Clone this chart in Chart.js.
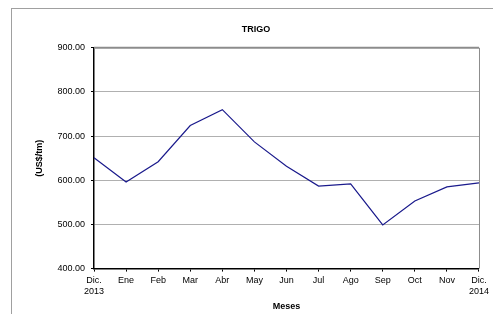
<!DOCTYPE html>
<html>
<head>
<meta charset="utf-8">
<script src="https://cdn.jsdelivr.net/npm/chart.js@4"></script>
<style>
  body { margin: 0; background: #fff; }
  #wrap { position: relative; width: 493px; height: 314px; overflow: hidden; }
  #marco { position: absolute; left: 11px; top: 8px; width: 520px; height: 340px; border: 1px solid #a0a0a0; }
  canvas { position: absolute; left: 0; top: 0; }
</style>
</head>
<body>
<div id="wrap">
  <div id="marco"></div>
  <canvas id="trigoChart" width="493" height="314"></canvas>
</div>
<script>
// Datos del gráfico
const meses = [['Dic.', '2013'], 'Ene', 'Feb', 'Mar', 'Abr', 'May', 'Jun', 'Jul', 'Ago', 'Sep', 'Oct', 'Nov', ['Dic.', '2014']];
const precios = [651, 596, 642, 724, 760, 687, 632, 587, 592, 499, 553, 585, 594];
const yTicks = [400, 500, 600, 700, 800, 900];

const fuente = 'Liberation Sans, Arial, sans-serif';

// Borde gris arriba y a la derecha del área de trazado
const bordePlot = {
    id: 'bordePlot',
    afterDraw(chart) {
        const { ctx, chartArea: a } = chart;
        ctx.save();
        ctx.strokeStyle = '#8c8c8c';
        ctx.lineWidth = 2;
        ctx.beginPath();
        ctx.moveTo(a.left, a.top);
        ctx.lineTo(a.right, a.top);
        ctx.stroke();
        ctx.lineWidth = 1;
        ctx.beginPath();
        ctx.moveTo(a.right + 0.5, a.top);
        ctx.lineTo(a.right + 0.5, a.bottom);
        ctx.stroke();
        ctx.restore();
    }
};

const ctx = document.getElementById('trigoChart').getContext('2d');
new Chart(ctx, {
    type: 'line',
    data: {
        labels: meses,
        datasets: [{
            label: 'Trigo',
            data: precios,
            borderColor: '#1a1a8c',
            borderWidth: 1.2,
            pointRadius: 0,
            tension: 0,
            fill: false
        }]
    },
    options: {
        responsive: false,
        animation: false,
        layout: { padding: { left: 30, right: 11, top: 24, bottom: 2 } },
        plugins: {
            legend: { display: false },
            tooltip: { enabled: false },
            title: {
                display: true,
                text: 'TRIGO',
                color: '#000',
                font: { family: fuente, size: 9, weight: 'bold' },
                padding: { top: 0, bottom: 13 }
            }
        },
        scales: {
            x: {
                offset: false,
                grid: { drawOnChartArea: false, tickLength: 3, tickColor: '#000' },
                border: { color: '#000', width: 1.5 },
                ticks: {
                    color: '#000',
                    font: { family: fuente, size: 9 },
                    maxRotation: 0,
                    autoSkip: false,
                    padding: 4
                },
                title: {
                    display: true,
                    text: 'Meses',
                    color: '#000',
                    font: { family: fuente, size: 9, weight: 'bold' },
                    padding: { top: 0, bottom: 0 }
                }
            },
            y: {
                min: 400,
                max: 900,
                afterBuildTicks(scale) {
                    scale.ticks = yTicks.map(v => ({ value: v }));
                },
                afterFit(scale) { scale.width = 64; },
                grid: { color: '#b0b0b0', tickLength: 3, tickColor: '#000' },
                border: { color: '#000', width: 1.5 },
                ticks: {
                    color: '#000',
                    font: { family: fuente, size: 9 },
                    padding: 6,
                    callback: v => v.toFixed(2)
                },
                title: {
                    display: true,
                    text: '(US$/tm)',
                    color: '#000',
                    font: { family: fuente, size: 9, weight: 'bold' },
                    padding: { top: 4, bottom: 0 }
                }
            }
        }
    },
    plugins: [bordePlot]
});
</script>
</body>
</html>
